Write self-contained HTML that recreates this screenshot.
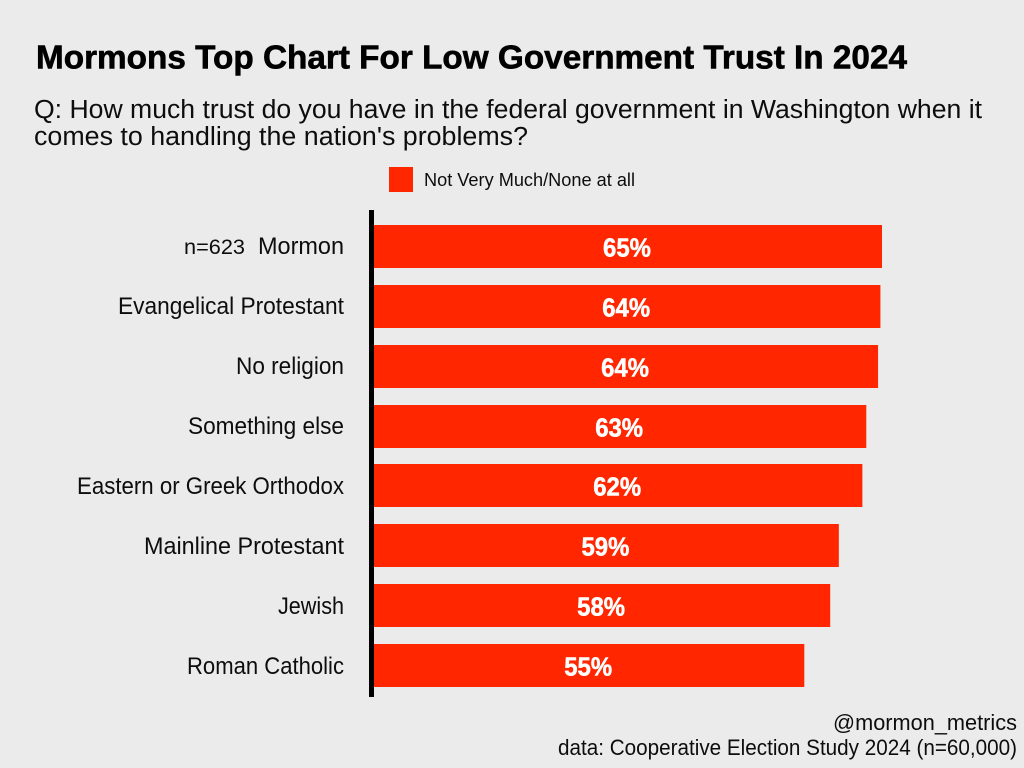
<!DOCTYPE html>
<html lang="en">
<head>
<meta charset="utf-8">
<title>Mormons Top Chart For Low Government Trust In 2024</title>
<style>
html,body{margin:0;padding:0;background:#ebebeb;width:1024px;height:768px;overflow:hidden}
svg{display:block}
text{font-family:"Liberation Sans",sans-serif;fill:#0d0d0d}
</style>
</head>
<body>
<svg id="chart" xmlns="http://www.w3.org/2000/svg" width="1024" height="768" viewBox="0 0 1024 768">
  <rect x="0" y="0" width="1024" height="768" fill="#ebebeb"/>
  <text x="36" y="68.5" font-size="33" font-weight="700" textLength="871" lengthAdjust="spacingAndGlyphs" style="fill:#000;stroke:#000;stroke-width:0.6">Mormons Top Chart For Low Government Trust In 2024</text>
  <text x="34" y="118" font-size="25.5" textLength="948" lengthAdjust="spacingAndGlyphs">Q: How much trust do you have in the federal government in Washington when it</text>
  <text x="34" y="145" font-size="25.5" textLength="494" lengthAdjust="spacingAndGlyphs">comes to handling the nation's problems?</text>
  <rect x="389" y="167" width="24" height="25" fill="#ff2600"/>
  <text x="424" y="186" font-size="18" textLength="211" lengthAdjust="spacingAndGlyphs">Not Very Much/None at all</text>
  <g id="bars"></g>
  <g id="categories">
    <text x="258" y="254" font-size="24" textLength="86" lengthAdjust="spacingAndGlyphs">Mormon</text>
    <text x="118" y="314" font-size="24" textLength="226" lengthAdjust="spacingAndGlyphs">Evangelical Protestant</text>
    <text x="236" y="374" font-size="24" textLength="108" lengthAdjust="spacingAndGlyphs">No religion</text>
    <text x="188" y="434" font-size="24" textLength="156" lengthAdjust="spacingAndGlyphs">Something else</text>
    <text x="77" y="494" font-size="24" textLength="267" lengthAdjust="spacingAndGlyphs">Eastern or Greek Orthodox</text>
    <text x="144" y="554" font-size="24" textLength="200" lengthAdjust="spacingAndGlyphs">Mainline Protestant</text>
    <text x="278" y="614" font-size="24" textLength="66" lengthAdjust="spacingAndGlyphs">Jewish</text>
    <text x="187" y="674" font-size="24" textLength="157" lengthAdjust="spacingAndGlyphs">Roman Catholic</text>
  </g>
  <g id="values"></g>
  <rect x="369" y="210" width="5" height="487" fill="#000000"/>
  <text x="184" y="254" font-size="21" textLength="61" lengthAdjust="spacingAndGlyphs">n=623</text>
  <text x="833" y="730" font-size="22" textLength="184" lengthAdjust="spacingAndGlyphs">@mormon_metrics</text>
  <text x="558" y="755" font-size="22" textLength="459" lengthAdjust="spacingAndGlyphs">data: Cooperative Election Study 2024 (n=60,000)</text>
</svg>
<script>
const categories = ["Mormon", "Evangelical Protestant", "No religion", "Something else", "Eastern or Greek Orthodox", "Mainline Protestant", "Jewish", "Roman Catholic"];
const seriesValues = [65.0, 64.8, 64.5, 63.0, 62.5, 59.5, 58.4, 55.1];
const valueLabels = ["65%", "64%", "64%", "63%", "62%", "59%", "58%", "55%"];

const NS = "http://www.w3.org/2000/svg";
const AXIS_ZERO = 372;
const PX_PER_POINT = 7.846;
const ROW_START = 225;
const ROW_STEP = 59.85;
const BAR_HEIGHT = 43;
const BAR_LEFT = 374;
const VALUE_CONDENSE = 0.92;

function xScale(v) { return AXIS_ZERO + v * PX_PER_POINT; }
function yScale(i) { return Math.round(ROW_START + i * ROW_STEP); }
function condense(el, k) {
  const w = el.getComputedTextLength();
  el.setAttribute("textLength", (w * k).toFixed(1));
  el.setAttribute("lengthAdjust", "spacingAndGlyphs");
}

const barsGroup = document.getElementById("bars");
const valGroup = document.getElementById("values");

categories.forEach(function (name, i) {
  const top = yScale(i);
  const right = xScale(seriesValues[i]);

  const bar = document.createElementNS(NS, "rect");
  
  
  bar.setAttribute("aria-label", name);
  bar.setAttribute("x", BAR_LEFT);
  bar.setAttribute("y", top);
  bar.setAttribute("width", right - BAR_LEFT);
  bar.setAttribute("height", BAR_HEIGHT);
  bar.setAttribute("fill", "#ff2600");
  barsGroup.appendChild(bar);

  const val = document.createElementNS(NS, "text");
  
  
  val.setAttribute("x", (BAR_LEFT + right) / 2 - 1);
  val.setAttribute("y", top + 31.5);
  val.setAttribute("font-size", "26");
  val.setAttribute("font-weight", "700");
  val.setAttribute("text-anchor", "middle");
  val.style.fill = "#ffffff";
  val.style.stroke = "#ffffff";
  val.style.strokeWidth = "0.5";
  val.textContent = valueLabels[i];
  valGroup.appendChild(val);
  condense(val, VALUE_CONDENSE);
});
</script>
</body>
</html>
